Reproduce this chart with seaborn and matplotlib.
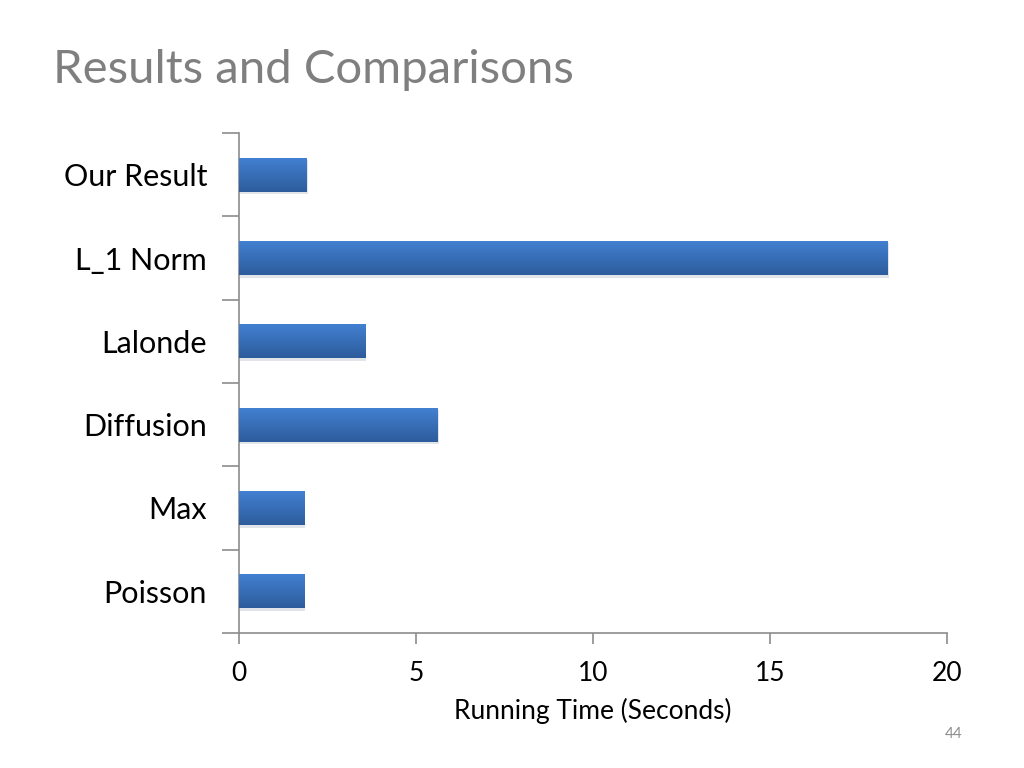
import numpy as np
import pandas as pd
import matplotlib
matplotlib.use("Agg")
import matplotlib.pyplot as plt
import seaborn as sns

# data
methods = ["Our Result", "L_1 Norm", "Lalonde", "Diffusion", "Max", "Poisson"]
seconds = [1.92, 18.33, 3.56, 5.62, 1.84, 1.84]
xticks = [0, 5, 10, 15, 20]

df = pd.DataFrame({"method": methods, "seconds": seconds})

sns.set_theme(style="white")
plt.rcParams["font.family"] = ["Lato", "DejaVu Sans"]

fig = plt.figure(figsize=(10.24, 7.68), dpi=100)
ax = fig.add_axes([0.2334, 0.1758, 0.6914, 0.651])

sns.barplot(data=df, x="seconds", y="method", orient="h", color="#3A6FBE",
            width=0.41, saturation=1, ax=ax)

# vertical gradient + soft shadow on every bar
grad = np.linspace(0, 1, 64).reshape(-1, 1)
cmap = matplotlib.colors.LinearSegmentedColormap.from_list("bar", ["#2D5C9C", "#4381D3"])
for p in list(ax.patches):
    x0, y0 = p.get_x(), p.get_y()
    w, h = p.get_width(), p.get_height()
    shadow = plt.Rectangle((x0 + 0.03, y0 + 0.03), w, h, color="#8a94a8",
                           alpha=0.25, zorder=1, lw=0)
    ax.add_patch(shadow)
    p.set_zorder(2)
    p.set_linewidth(0)
    im = ax.imshow(grad, cmap=cmap, aspect="auto", extent=[x0, x0 + w, y0, y0 + h],
                   zorder=3, interpolation="bicubic")
    im.set_clip_path(p)

ax.set_xlim(0, 20)
ax.set_ylim(5.5, -0.5)
ax.set_xticks(xticks)
ax.set_yticks(np.arange(-0.5, 6.0, 1.0), minor=True)
ax.set_yticks(range(len(methods)))
ax.set_yticklabels(methods)

for s in ["top", "right"]:
    ax.spines[s].set_visible(False)
for s in ["left", "bottom"]:
    ax.spines[s].set_color("#8c8c8c")
    ax.spines[s].set_linewidth(1.2)

ax.tick_params(axis="y", which="major", length=0, pad=23, labelsize=22, labelcolor="black")
ax.tick_params(axis="y", which="minor", left=True, length=12, width=1.2, color="#8c8c8c")
ax.tick_params(axis="x", bottom=True, length=8, width=1.2, color="#8c8c8c",
               labelsize=19, labelcolor="black", pad=12)

ax.set_xlabel("Running Time (Seconds)", fontsize=19, color="black", labelpad=9)
ax.set_ylabel("")

fig.text(0.052, 0.882, "Results and Comparisons", fontsize=34, color="#7f7f7f",
         ha="left", va="bottom")
fig.text(0.94, 0.035, "44", fontsize=11, color="#8c8c8c", ha="right", va="bottom")

fig.savefig("out.png", dpi=100, facecolor="white")
